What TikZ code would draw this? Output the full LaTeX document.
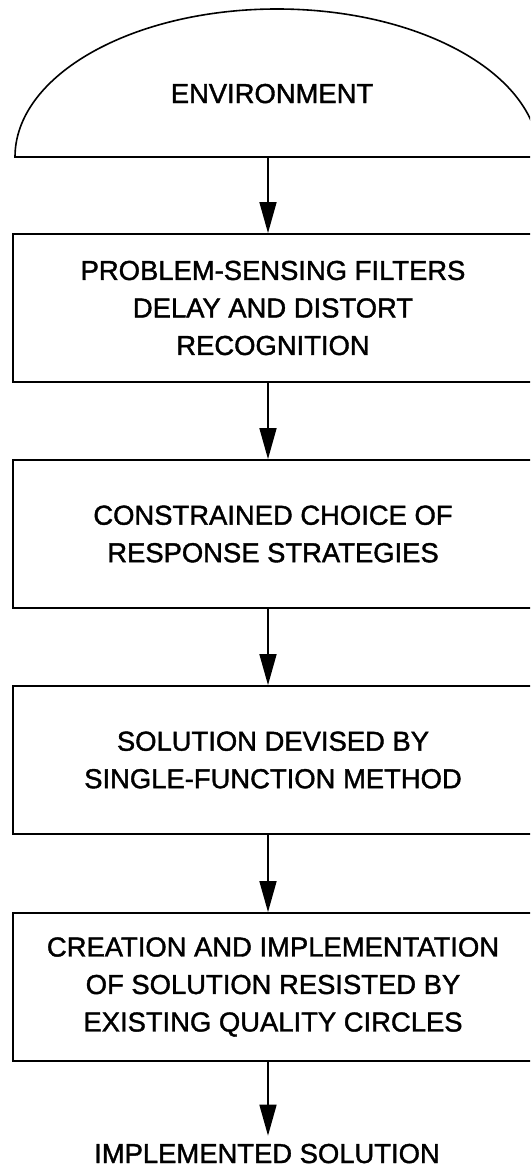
\documentclass[tikz,border=0pt]{standalone}
\usepackage{fontspec}
\setmainfont{Liberation Sans}[BoldFont=Liberation Sans, BoldFeatures={FakeBold=1.4}]
\usetikzlibrary{arrows.meta}
\begin{document}
\begin{tikzpicture}[x=1pt,y=-1pt,
  stage/.style={draw, line width=1.8pt, minimum width=520pt, minimum height=148pt,
    inner sep=0pt, align=center, font=\fontsize{27.4}{37.5}\selectfont\bfseries},
  flow/.style={line width=1.6pt, -{Triangle[length=31pt,width=17pt]}},
  lbl/.style={font=\fontsize{27.4}{37.5}\selectfont\bfseries, inner sep=0pt}]
\useasboundingbox (0,0) rectangle (530,1172);
\fill[white] (0,0) rectangle (530,1172);
\clip (0,0) rectangle (530,1172);

% environment dome
\draw[line width=1.6pt] (15,157) arc[start angle=180, end angle=0, x radius=262pt, y radius=148pt] -- cycle;
\node[lbl, anchor=base] (env) at (272,103) {ENVIRONMENT};
\coordinate (dbase) at (268,157);
\coordinate (ax) at (268,0);

% process stages
\node[stage] (b1) at (273,308) {PROBLEM-SENSING FILTERS\\DELAY AND DISTORT\\RECOGNITION};
\node[stage] (b2) at (273,534) {CONSTRAINED CHOICE OF\\RESPONSE STRATEGIES};
\node[stage] (b3) at (273,760) {SOLUTION DEVISED BY\\SINGLE-FUNCTION METHOD};
\node[stage] (b4) at (273,987) {CREATION AND IMPLEMENTATION\\OF SOLUTION RESISTED BY\\EXISTING QUALITY CIRCLES};
\node[lbl, anchor=base] (out) at (267,1163) {IMPLEMENTED SOLUTION};

% connectors
\draw[flow] (dbase) -- (b1.north -| ax);
\draw[flow] (b1.south -| ax) -- (b2.north -| ax);
\draw[flow] (b2.south -| ax) -- (b3.north -| ax);
\draw[flow] (b3.south -| ax) -- (b4.north -| ax);
\draw[flow, shorten >=8pt] (b4.south -| ax) -- (out.north -| ax);
\end{tikzpicture}
\end{document}
